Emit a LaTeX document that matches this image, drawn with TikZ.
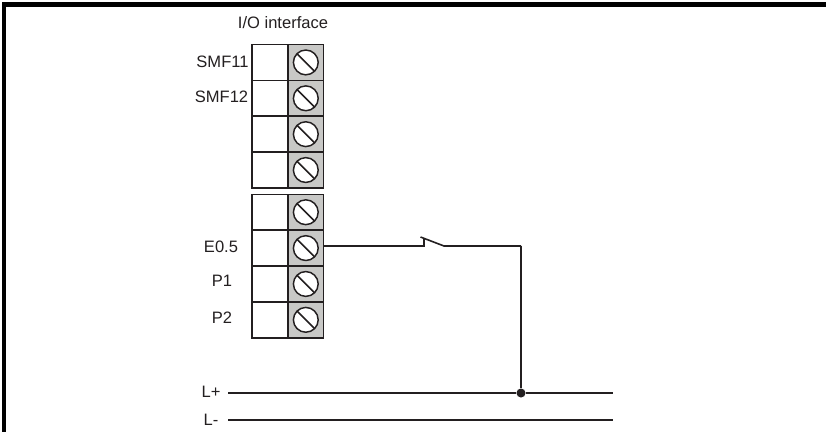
\documentclass[tikz,border=0pt]{standalone}
\usepackage{fontspec}
\setmainfont{Liberation Sans}
\usetikzlibrary{matrix,positioning}
\definecolor{ink}{HTML}{231F20}
\definecolor{plate}{HTML}{C8C8C6}
\tikzstyle{se}=[ampersand replacement=\&, inner sep=0pt, outer sep=0pt, row sep=-1.2pt, column sep=-1.2pt]
\tikzstyle{bl}=[draw=ink, line width=1.2pt, fill=white, minimum width=26.8pt, minimum height=26.9pt, inner sep=0, outer sep=0]
\tikzstyle{gr}=[bl, fill=plate]
\tikzstyle{screw}=[draw=ink, line width=1.1pt, fill=white, circle, minimum size=18.6pt, inner sep=0, outer sep=0]
\tikzstyle{wire}=[draw=ink, line width=1.2pt]
\tikzstyle{lbl}=[font=\fontsize{12.4pt}{14pt}\selectfont, text=ink, inner sep=0]

\begin{document}
\begin{tikzpicture}[x=0.75pt, y=-0.75pt]
\useasboundingbox (0,0) rectangle (826,432);
% frame
\fill[black] (2,2) rectangle (826,7);
\fill[black] (2,2) rectangle (6,432);
\node[lbl] (title) at (283,23) {I/O interface};
% terminal blocks
\matrix (upper) [se, anchor=north west] at (251.4,43.7) {
    \node[bl] (upper-l1) {}; \& \node[gr] (upper-r1) {}; \\
    \node[bl] (upper-l2) {}; \& \node[gr] (upper-r2) {}; \\
    \node[bl] (upper-l3) {}; \& \node[gr] (upper-r3) {}; \\
    \node[bl] (upper-l4) {}; \& \node[gr] (upper-r4) {}; \\
};
\matrix (lower) [se, anchor=north west] at (251.4,193.5) {
    \node[bl] (lower-l1) {}; \& \node[gr] (lower-r1) {}; \\
    \node[bl] (lower-l2) {}; \& \node[gr] (lower-r2) {}; \\
    \node[bl] (lower-l3) {}; \& \node[gr] (lower-r3) {}; \\
    \node[bl] (lower-l4) {}; \& \node[gr] (lower-r4) {}; \\
};
\foreach \block in {upper,lower}
    \foreach \row in {1,...,4} {
        \node[screw] (\block-s\row) at (\block-r\row) {};
        \draw[wire] (\block-s\row.135) -- (\block-s\row.-45);
    }
% labels
\node[lbl] (smfa) at (222.5,62) {SMF11};
\node[lbl] (smfb) at (221.5,97) {SMF12};
\node[lbl] (eio) at (221,247) {E0.5};
\node[lbl] (pa) at (222,281) {P1};
\node[lbl] (pb) at (222,318) {P2};
\node[lbl] (lp) at (211,392) {L+};
\node[lbl] (lm) at (211,420) {L-};
% switch
\coordinate (swa) at (424,246);
\coordinate (swb) at (424,238.6);
\coordinate (swc) at (420.5,237);
\coordinate (swd) at (444,246);
\coordinate (swe) at (521,246);
\draw[wire] (lower-r2.east |- swa) -- (swa) -- (swb);
\draw[wire] (swc) -- (swd) -- (swe);
% supply rails
\node[circle, fill=ink, minimum size=6.8pt, inner sep=0] (dot) at (521,393) {};
\coordinate (lpa) at (228,393);
\coordinate (lpb) at (613,393);
\coordinate (lma) at (228,420);
\coordinate (lmb) at (613,420);
\draw[wire] (lpa) -- (dot) -- (lpb);
\draw[wire] (lma) -- (lmb);
\draw[wire] (swe) -- (dot);
\end{tikzpicture}
\end{document}
